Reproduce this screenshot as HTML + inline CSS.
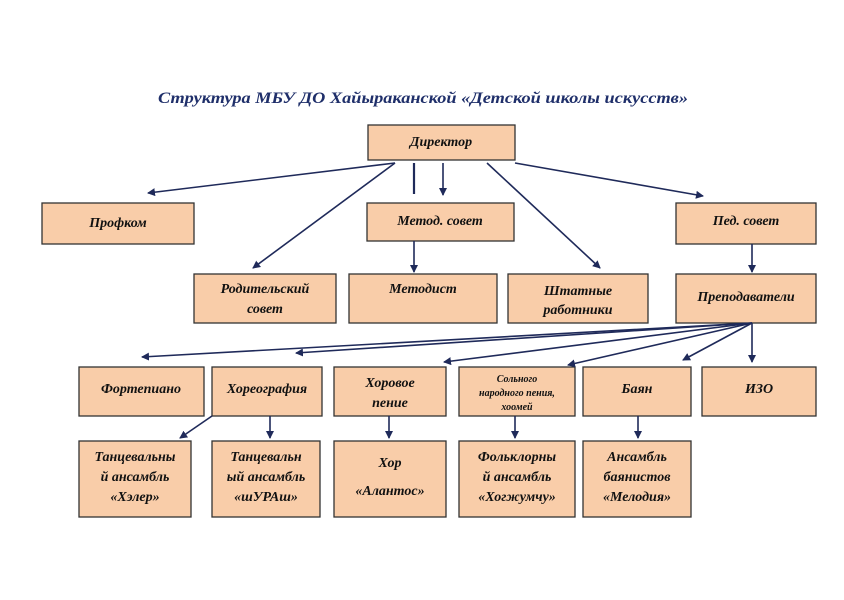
<!DOCTYPE html>
<html><head><meta charset="utf-8"><style>
body{margin:0;background:#fff;}
svg text{font-family:"Liberation Serif",serif;font-style:italic;font-weight:bold;fill:#111;}
</style></head><body>
<svg width="844" height="595" xmlns="http://www.w3.org/2000/svg">
<defs><marker id="a" markerWidth="8" markerHeight="8" refX="7" refY="4" orient="auto" markerUnits="userSpaceOnUse"><path d="M0,0 L8,4 L0,8 z" fill="#1f2a5a"/></marker></defs>
<text x="158" y="103" font-size="16" textLength="530" lengthAdjust="spacingAndGlyphs" style="fill:#1f2f6a">Структура МБУ ДО Хайыраканской «Детской школы искусств»</text>
<g fill="#f9cda9" stroke="#333" stroke-width="1.3">
<rect x="368" y="125" width="147" height="35"/>
<rect x="42" y="203" width="152" height="41"/>
<rect x="367" y="203" width="147" height="38"/>
<rect x="676" y="203" width="140" height="41"/>
<rect x="194" y="274" width="142" height="49"/>
<rect x="349" y="274" width="148" height="49"/>
<rect x="508" y="274" width="140" height="49"/>
<rect x="676" y="274" width="140" height="49"/>
<rect x="79" y="367" width="125" height="49"/>
<rect x="212" y="367" width="110" height="49"/>
<rect x="334" y="367" width="112" height="49"/>
<rect x="459" y="367" width="116" height="49"/>
<rect x="583" y="367" width="108" height="49"/>
<rect x="702" y="367" width="114" height="49"/>
<rect x="79" y="441" width="112" height="76"/>
<rect x="212" y="441" width="108" height="76"/>
<rect x="334" y="441" width="112" height="76"/>
<rect x="459" y="441" width="116" height="76"/>
<rect x="583" y="441" width="108" height="76"/>
</g>
<g stroke="#1f2a5a" stroke-width="1.6" fill="none" marker-end="url(#a)">
<line x1="395" y1="163" x2="148" y2="193"/>
<line x1="395" y1="163" x2="253" y2="268"/>
<line x1="443" y1="163" x2="443" y2="195"/>
<line x1="487" y1="163" x2="600" y2="268"/>
<line x1="515" y1="163" x2="703" y2="196"/>
<line x1="414" y1="241" x2="414" y2="272"/>
<line x1="752" y1="244" x2="752" y2="272"/>
<line x1="752" y1="323" x2="142" y2="357"/>
<line x1="752" y1="323" x2="296" y2="353"/>
<line x1="752" y1="323" x2="444" y2="362"/>
<line x1="752" y1="323" x2="568" y2="365"/>
<line x1="752" y1="323" x2="683" y2="360"/>
<line x1="752" y1="323" x2="752" y2="362"/>
<line x1="212" y1="416" x2="180" y2="438"/>
<line x1="270" y1="416" x2="270" y2="438"/>
<line x1="389" y1="416" x2="389" y2="438"/>
<line x1="515" y1="416" x2="515" y2="438"/>
<line x1="638" y1="416" x2="638" y2="438"/>
</g>
<line x1="414" y1="163" x2="414" y2="194" stroke="#1f2a5a" stroke-width="2.2"/>
<g font-size="14" text-anchor="middle">
<text x="441" y="146">Директор</text>
<text x="118" y="227">Профком</text>
<text x="440" y="225">Метод. совет</text>
<text x="746" y="225">Пед. совет</text>
<text x="265" y="293">Родительский</text><text x="265" y="313">совет</text>
<text x="423" y="293">Методист</text>
<text x="578" y="295">Штатные</text><text x="578" y="314">работники</text>
<text x="746" y="301">Преподаватели</text>
<text x="141" y="393">Фортепиано</text>
<text x="267" y="393">Хореография</text>
<text x="390" y="387">Хоровое</text><text x="390" y="407">пение</text>
<text x="637" y="393">Баян</text>
<text x="759" y="393">ИЗО</text>
<text x="135" y="461">Танцевальны</text><text x="135" y="481">й ансамбль</text><text x="135" y="501">«Хэлер»</text>
<text x="266" y="461">Танцевальн</text><text x="266" y="481">ый ансамбль</text><text x="266" y="501">«шУРАш»</text>
<text x="390" y="467">Хор</text><text x="390" y="495">«Алантос»</text>
<text x="517" y="461">Фольклорны</text><text x="517" y="481">й ансамбль</text><text x="517" y="501">«Хогжумчу»</text>
<text x="637" y="461">Ансамбль</text><text x="637" y="481">баянистов</text><text x="637" y="501">«Мелодия»</text>
</g>
<g font-size="10" text-anchor="middle" style="font-weight:normal">
<text x="517" y="382">Сольного</text><text x="517" y="396">народного пения,</text><text x="517" y="410">хоомей</text>
</g>
</svg>
</body></html>
